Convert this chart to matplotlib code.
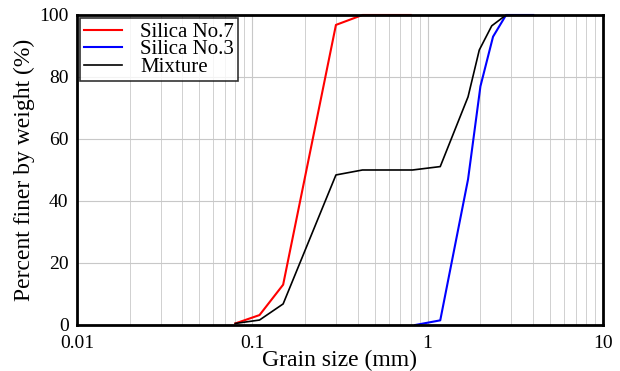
import matplotlib
matplotlib.use("Agg")
import matplotlib.pyplot as plt
from matplotlib.ticker import FixedLocator, FixedFormatter, LogLocator, NullFormatter

plt.rcParams['font.family'] = ['Liberation Serif', 'DejaVu Serif']

# Data
silica7_x = [0.08, 0.11, 0.15, 0.30, 0.425, 0.80]
silica7_y = [0.5, 3.2, 13.0, 96.8, 100, 100]

silica3_x = [0.85, 1.18, 1.70, 2.00, 2.36, 2.80, 4.00]
silica3_y = [0.0, 1.5, 47.0, 77.0, 93.0, 100, 100]

mix_x = [0.08, 0.11, 0.15, 0.30, 0.425, 0.82, 1.18, 1.70, 1.97, 2.32, 2.80]
mix_y = [0.5, 1.6, 6.8, 48.4, 50.0, 50.0, 51.1, 73.6, 88.7, 96.5, 100]

xticks = [0.01, 0.1, 1, 10]
xticklabels = ["0.01", "0.1", "1", "10"]
yticks = [0, 20, 40, 60, 80, 100]

fig = plt.figure(figsize=(6.2, 3.71), dpi=100)
ax = fig.add_axes([0.124, 0.124, 0.9726 - 0.124, 0.9596 - 0.124])

ax.plot(silica7_x, silica7_y, color='red', lw=1.5, label='Silica No.7', clip_on=False, zorder=3)
ax.plot(silica3_x, silica3_y, color='blue', lw=1.5, label='Silica No.3', clip_on=False, zorder=3)
ax.plot(mix_x, mix_y, color='black', lw=1.2, label='Mixture', zorder=3)

ax.set_xscale('log')
ax.set_xlim(0.01, 10)
ax.set_ylim(0, 100)
ax.xaxis.set_major_locator(FixedLocator(xticks))
ax.xaxis.set_major_formatter(FixedFormatter(xticklabels))
ax.xaxis.set_minor_locator(LogLocator(base=10, subs=range(2, 10)))
ax.xaxis.set_minor_formatter(NullFormatter())
ax.set_yticks(yticks)

ax.grid(True, which='major', color='#c8c8c8', lw=0.8)
ax.grid(True, which='minor', axis='x', color='#d0d0d0', lw=0.7)
ax.tick_params(which='both', length=0, labelsize=14)
ax.tick_params(axis='y', pad=6)
ax.tick_params(axis='x', pad=7)
for s in ax.spines.values():
    s.set_linewidth(2)
    s.set_zorder(4)

ax.set_xlabel('Grain size (mm)', fontsize=17, labelpad=-1)
ax.set_ylabel('Percent finer by weight (%)', fontsize=17, labelpad=3)

leg = ax.legend(loc='upper left', fontsize=15, frameon=True, fancybox=False,
                edgecolor='black', borderpad=0.2, labelspacing=-0.1,
                handlelength=1.8, handletextpad=0.9, borderaxespad=0.15)
leg.get_frame().set_linewidth(1.2)
leg.set_zorder(5)

fig.savefig('out.png', dpi=100)
